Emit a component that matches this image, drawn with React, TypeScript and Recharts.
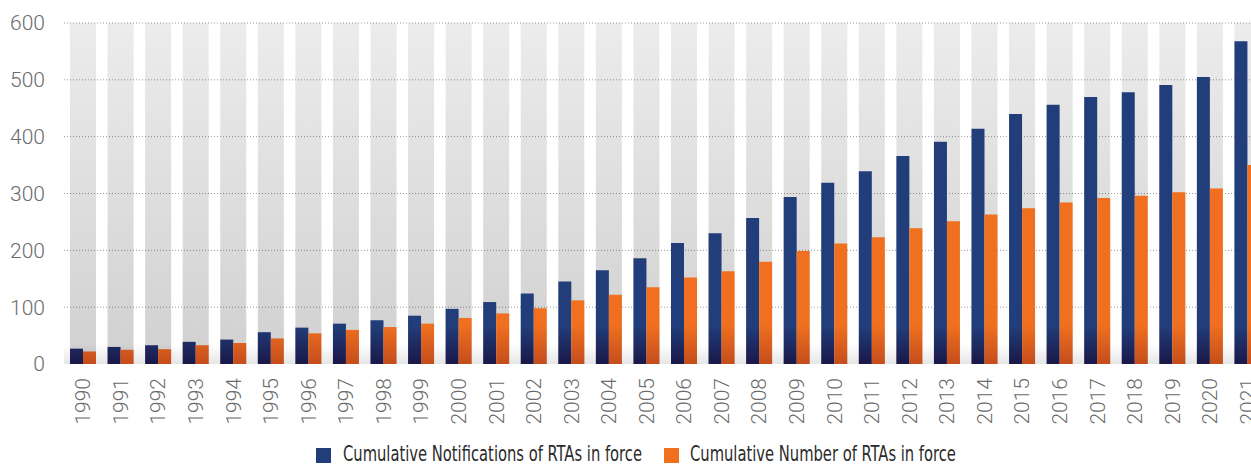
import React from 'react';
import { BarChart, Bar, XAxis, YAxis, CartesianGrid, Legend, ReferenceArea } from 'recharts';

// values
const years = [
  '1990', '1991', '1992', '1993', '1994', '1995', '1996', '1997', '1998', '1999', '2000',
  '2001', '2002', '2003', '2004', '2005', '2006', '2007', '2008', '2009', '2010',
  '2011', '2012', '2013', '2014', '2015', '2016', '2017', '2018', '2019', '2020', '2021',
];
const notifications = [
  27, 30, 33, 39, 43, 56, 64, 71, 77, 85, 97,
  109, 124, 145, 165, 186, 213, 230, 257, 294, 319,
  339, 366, 391, 414, 440, 456, 470, 478, 491, 505, 568,
];
const rtasInForce = [
  22, 25, 26, 33, 37, 45, 54, 60, 65, 71, 81,
  89, 98, 112, 122, 135, 152, 163, 180, 199, 212,
  223, 239, 251, 263, 274, 284, 292, 296, 302, 309, 350,
];
const yTicks = [0, 100, 200, 300, 400, 500, 600];
const gridValues = [100, 200, 300, 400, 500, 600];
const seriesNames = ['Cumulative Notifications of RTAs in force', 'Cumulative Number of RTAs in force'];

const data = years.map((year, i) => ({
  year,
  notifications: notifications[i],
  rtas: rtasInForce[i],
}));

const NAVY = '#213e7b';
const ORANGE = '#f0701f';
const FONT = 'Roboto, "Open Sans", sans-serif';
const LEGEND_FONT = '"Liberation Sans Narrow", "DejaVu Sans Condensed", Roboto, sans-serif';

// rotated year labels, reading bottom to top
const YearTick = (props: any) => {
  const { x, y, payload } = props;
  const ty = y + 6;
  return (
    <text
      x={x}
      y={ty}
      transform={`rotate(-90, ${x}, ${ty})`}
      textAnchor="end"
      dy="0.36em"
      fill="#6b6b6b"
      fontFamily={FONT}
      fontWeight={300}
      fontSize={21}
    >
      {payload.value}
    </text>
  );
};

// no narrow font installed, so squeeze the legend text horizontally
const squeeze = { position: 'absolute' as const, top: 8, whiteSpace: 'nowrap' as const, transform: 'scaleX(0.78)', transformOrigin: 'left center' };

const LegendContent = () => (
  <div style={{ width: 1251, height: 30, position: 'relative', fontFamily: LEGEND_FONT, fontSize: 21, color: '#2b2b2b', lineHeight: '21px' }}>
    <span style={{ position: 'absolute', left: 316, top: 12, width: 15, height: 15, background: NAVY }} />
    <span style={{ ...squeeze, left: 343 }}>{seriesNames[0]}</span>
    <span style={{ position: 'absolute', left: 664, top: 12, width: 15, height: 15, background: ORANGE }} />
    <span style={{ ...squeeze, left: 690 }}>{seriesNames[1]}</span>
  </div>
);

export default function App() {
  return (
    <div style={{ position: 'fixed', left: 0, top: 0, width: 1251, height: 466, overflow: 'hidden', background: '#fff' }}>
      <BarChart
        width={1270}
        height={466}
        data={data}
        margin={{ top: 23, right: 4, bottom: 0, left: 0 }}
        barCategoryGap={6}
        barGap={0}
      >
        <defs>
          <linearGradient id="stripe" x1="0" y1="0" x2="0" y2="1">
            <stop offset="0%" stopColor="#000" stopOpacity={0.075} />
            <stop offset="100%" stopColor="#000" stopOpacity={0.185} />
          </linearGradient>
          <linearGradient id="navyFill" gradientUnits="userSpaceOnUse" x1="0" y1="325" x2="0" y2="364">
            <stop offset="0%" stopColor={NAVY} />
            <stop offset="100%" stopColor="#1a1848" />
          </linearGradient>
          <linearGradient id="orangeFill" gradientUnits="userSpaceOnUse" x1="0" y1="325" x2="0" y2="364">
            <stop offset="0%" stopColor={ORANGE} />
            <stop offset="100%" stopColor="#c44d1c" />
          </linearGradient>
          <linearGradient id="shadow" x1="0" y1="0" x2="0" y2="1">
            <stop offset="0%" stopColor="#000" stopOpacity={0} />
            <stop offset="100%" stopColor="#000" stopOpacity={0.1} />
          </linearGradient>
        </defs>
        <CartesianGrid
          vertical={false}
          horizontalValues={gridValues}
          stroke="#9a9a9a"
          strokeDasharray="1 2"
        />
        <XAxis
          dataKey="year"
          interval={0}
          height={72}
          axisLine={false}
          tickLine={false}
          tick={<YearTick />}
        />
        <YAxis
          width={64}
          domain={[0, 600]}
          ticks={yTicks}
          axisLine={false}
          tickLine={false}
          tickMargin={13}
          tick={{ fill: '#6b6b6b', fontSize: 21, fontFamily: FONT, fontWeight: 300 }}
        />
        <ReferenceArea y1={0} y2={35} fill="url(#shadow)" fillOpacity={1} stroke="none" />
        <Legend verticalAlign="bottom" height={30} wrapperStyle={{ left: 0, width: 1251 }} content={<LegendContent />} />
        <Bar
          dataKey="notifications"
          name={seriesNames[0]}
          fill="url(#navyFill)"
          background={{ fill: 'url(#stripe)' }}
          isAnimationActive={false}
        />
        <Bar
          dataKey="rtas"
          name={seriesNames[1]}
          fill="url(#orangeFill)"
          background={{ fill: 'url(#stripe)' }}
          isAnimationActive={false}
        />
      </BarChart>
    </div>
  );
}
